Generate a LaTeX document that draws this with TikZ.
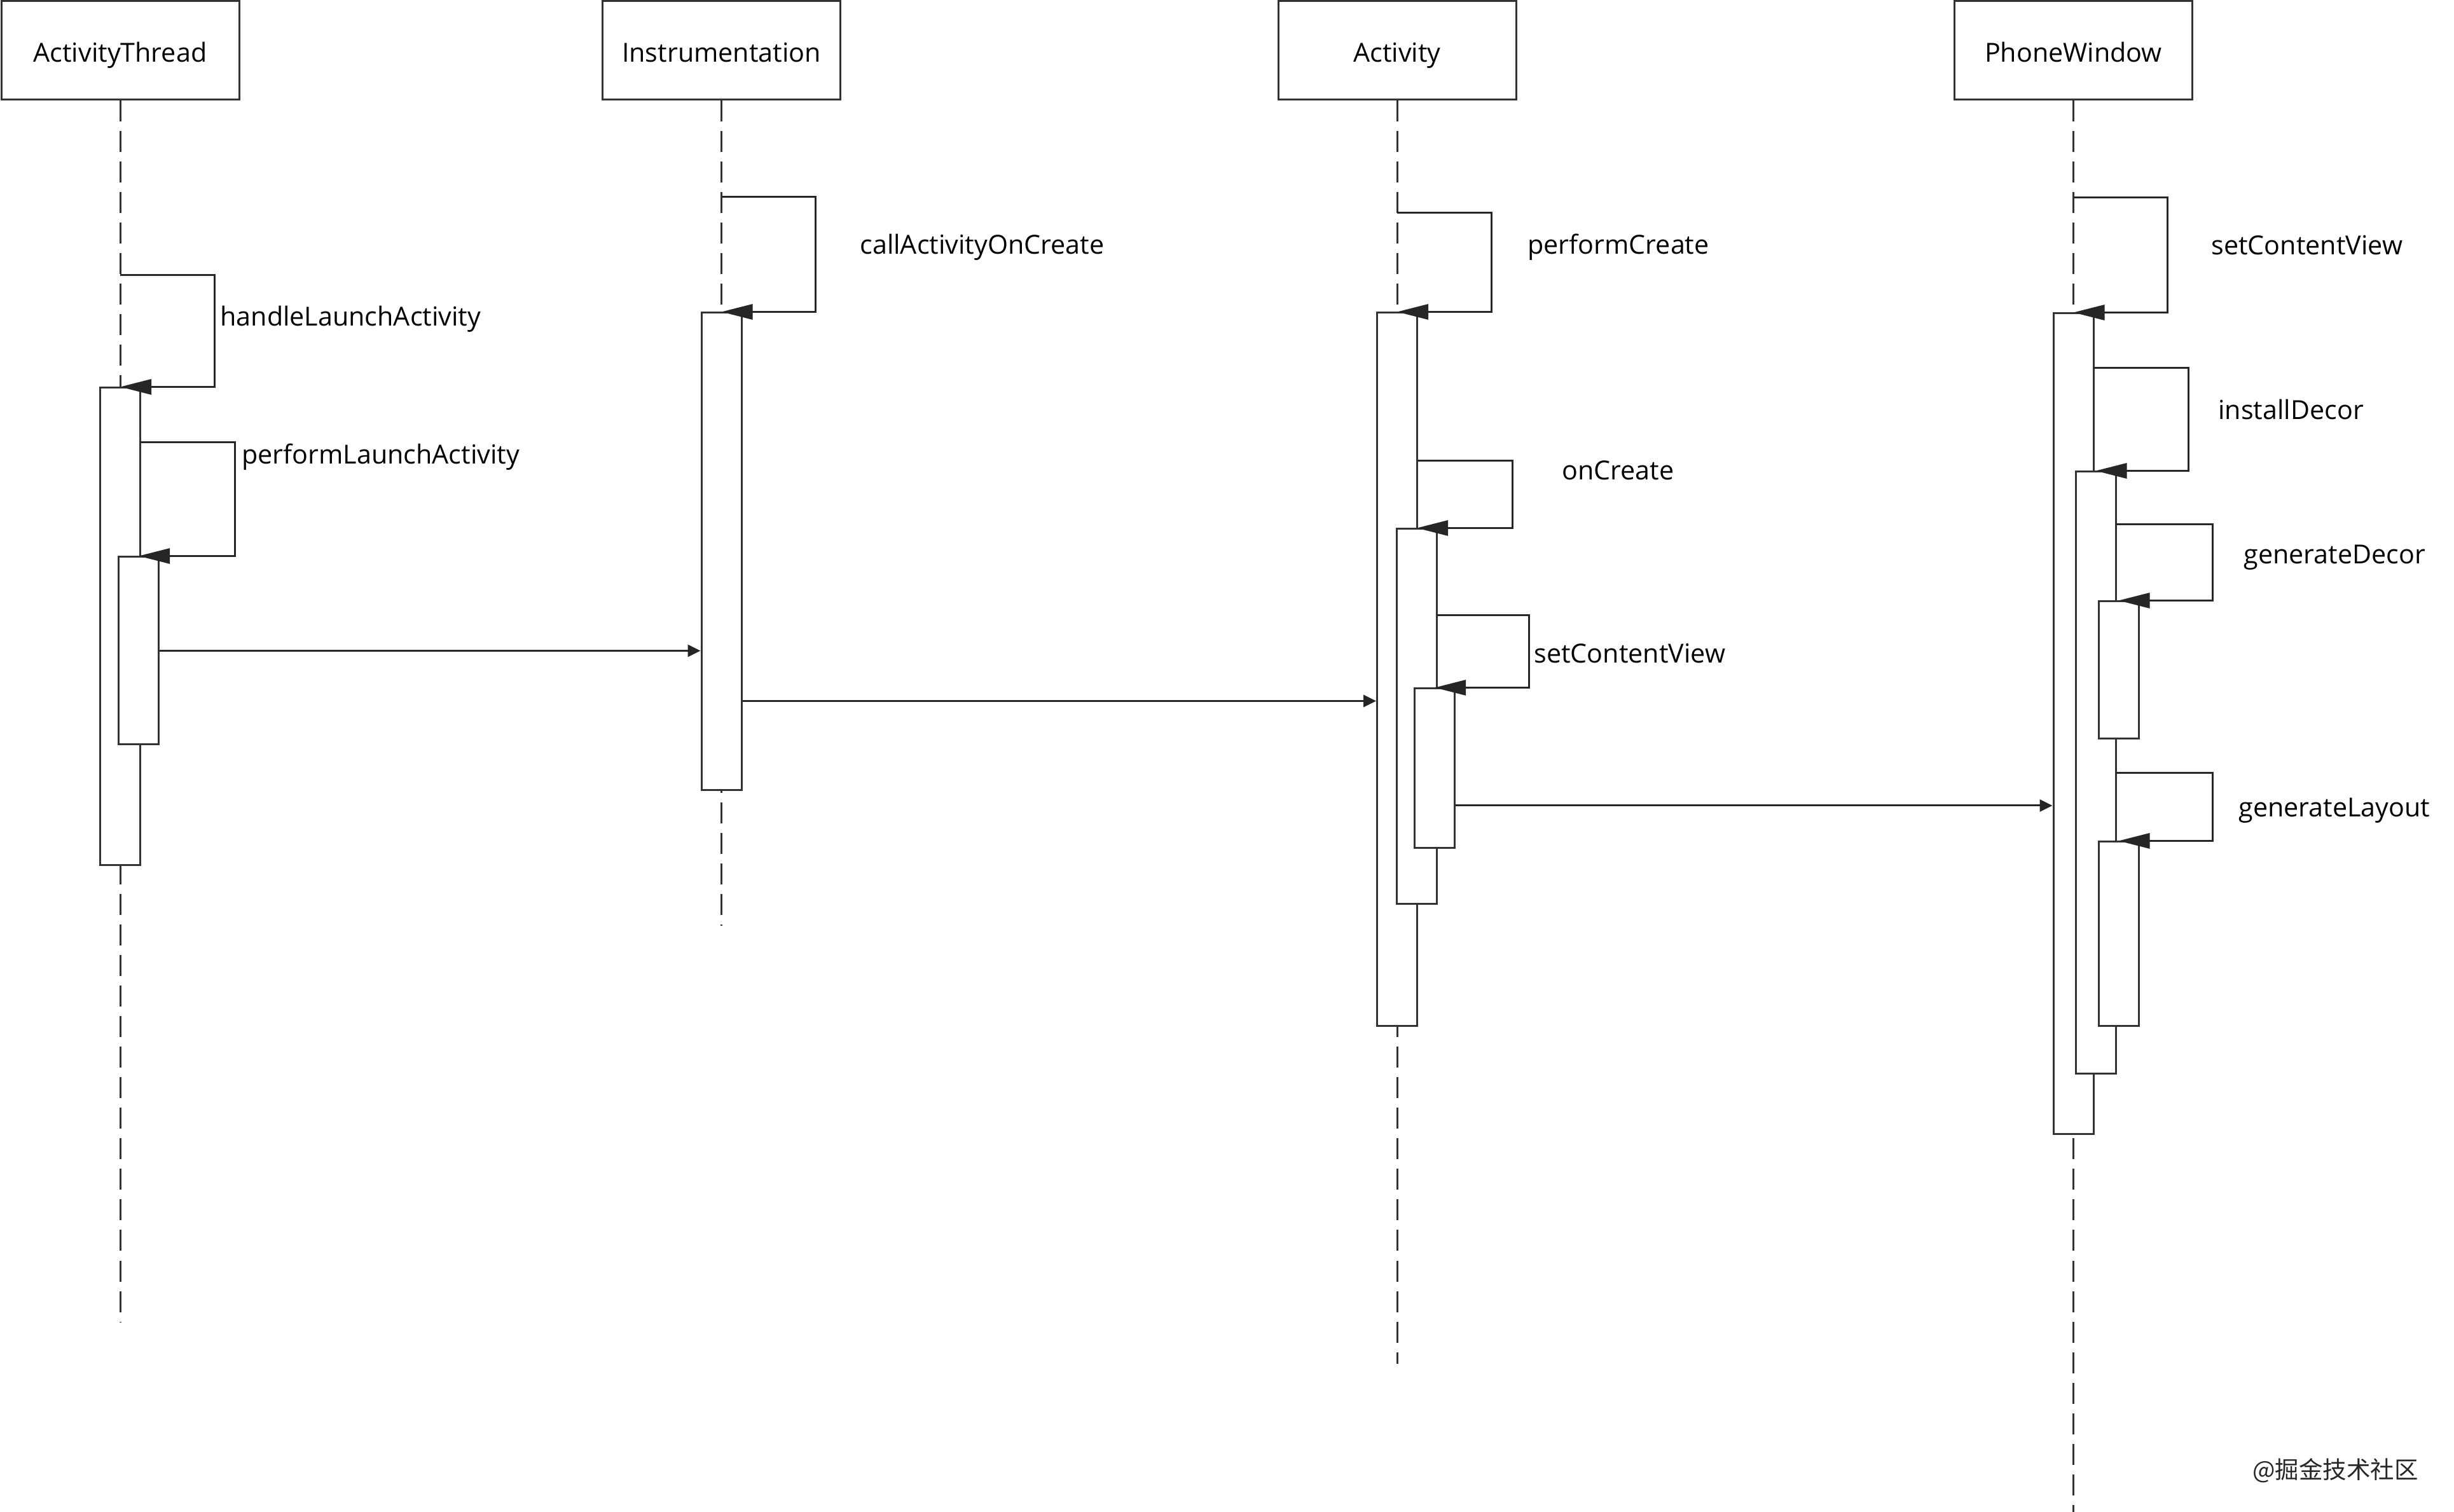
\documentclass[tikz,border=0pt]{standalone}
\usepackage{fontspec}
\setmainfont{Open Sans}
\newfontfamily\cjk{Noto Sans CJK SC}
\usetikzlibrary{arrows.meta}
\usetikzlibrary{positioning}

\begin{document}
\begin{tikzpicture}[x=1pt, y=-1pt, line width=0.6pt,
    font=\fontsize{8.25}{9.9}\selectfont,
    head/.style={draw=black!80, minimum width=74.8pt, minimum height=31pt, inner sep=0pt, text height=7.2pt, text depth=0pt},
    act/.style={draw=black!80, fill=white, minimum width=12.6pt, inner sep=0pt},
    life/.style={draw=black!80, dash pattern=on 6.6pt off 3pt},
    call/.style={draw=black!85, -{Triangle[length=9.8pt, width=4.8pt]}},
    msg/.style={draw=black!85, -{Triangle[length=4pt, width=3.8pt]}},
    lbl/.style={anchor=west, inner sep=0pt}]
        \useasboundingbox (0,0) rectangle (771.8,475.6);

        % objects
        \node[head] (thread) at (37.8,15.9) {ActivityThread};
        \node[head] (instr) at (226.9,15.9) {Instrumentation};
        \node[head] (activity) at (439.4,15.9) {Activity};
        \node[head] (window) at (652.1,15.9) {PhoneWindow};

        % lifelines
        \coordinate (threadEnd) at (37.8,416);
        \coordinate (instrEnd) at (226.9,291.2);
        \coordinate (activityEnd) at (439.4,429);
        \coordinate (windowEnd) at (652.1,475.6);
        \draw[life] (thread) -- (threadEnd);
        \draw[life] (instr) -- (instrEnd);
        \draw[life] (activity) -- (activityEnd);
        \draw[life] (window) -- (windowEnd);

        % activations
        \node[act, minimum height=150.2pt] (at1) at (37.8,197.1) {};
        \node[act, minimum height=59pt] (at2) at (43.6,204.7) {};
        \node[act, minimum height=150.2pt] (in1) at (226.9,173.5) {};
        \node[act, minimum height=224.4pt] (ac1) at (439.4,210.6) {};
        \node[act, minimum height=118pt] (ac2) at (445.6,225.4) {};
        \node[act, minimum height=50.2pt] (ac3) at (451.2,241.7) {};
        \node[act, minimum height=258.2pt] (pw1) at (652.1,227.7) {};
        \node[act, minimum height=189.4pt] (pw2) at (659.1,243.1) {};
        \node[act, minimum height=43.2pt] (pw3) at (666.3,210.8) {};
        \node[act, minimum height=58pt] (pw4) at (666.3,293.8) {};

        % self calls
        \coordinate (s1) at (37.8,86.6);
        \coordinate (s2) at (44.1,139.2);
        \coordinate (s3) at (226.9,62);
        \coordinate (s4) at (439.4,67);
        \coordinate (s5) at (445.7,144.9);
        \coordinate (s6) at (451.9,193.6);
        \coordinate (s7) at (652.1,62.2);
        \coordinate (s8) at (658.4,115.7);
        \coordinate (s9) at (665.4,164.9);
        \coordinate (s10) at (665.4,243.2);
        \draw[call] (s1) -- ++(29.6,0) |- (at1.north);
        \draw[call] (s2) -- ++(29.7,0) |- (at2.north);
        \draw[call] (s3) -- ++(29.5,0) |- (in1.north);
        \draw[call] (s4) -- ++(29.6,0) |- (ac1.north);
        \draw[call] (s5) -- ++(30,0) |- (ac2.north);
        \draw[call] (s6) -- ++(29,0) |- (ac3.north);
        \draw[call] (s7) -- ++(29.6,0) |- (pw1.north);
        \draw[call] (s8) -- ++(29.8,0) |- (pw2.north);
        \draw[call] (s9) -- ++(30.4,0) |- (pw3.north);
        \draw[call] (s10) -- ++(30.4,0) |- (pw4.north);

        \node[lbl] (handle) at (69,100.4) {handleLaunchActivity};
        \node[lbl] (launch) at (75.8,143.8) {performLaunchActivity};
        \node[lbl] (callCreate) at (270.2,77.8) {callActivityOnCreate};
        \node[lbl] (perfCreate) at (480.2,77.8) {performCreate};
        \node[lbl] (onCreate) at (491,148) {onCreate};
        \node[lbl] (actView) at (482.2,205.6) {setContentView};
        \node[lbl] (winView) at (695.2,77.2) {setContentView};
        \node[lbl] (decor) at (697.4,128.8) {installDecor};
        \node[lbl] (genDecor) at (705.4,175.3) {generateDecor};
        \node[lbl] (genLayout) at (703.8,255) {generateLayout};

        % messages
        \coordinate (m2) at (0,220.5);
        \coordinate (m3) at (0,253.4);
        \draw[msg] (at2.east) -- (in1.west |- at2.east);
        \draw[msg] (in1.east |- m2) -- (ac1.west |- m2);
        \draw[msg] (ac3.east |- m3) -- (pw1.west |- m3);

        \node[text=black!85, inner sep=0pt] (mark) at (734.5,462.6) {\cjk\fontsize{7.5}{9}\selectfont @掘金技术社区};
      \end{tikzpicture}
\end{document}
